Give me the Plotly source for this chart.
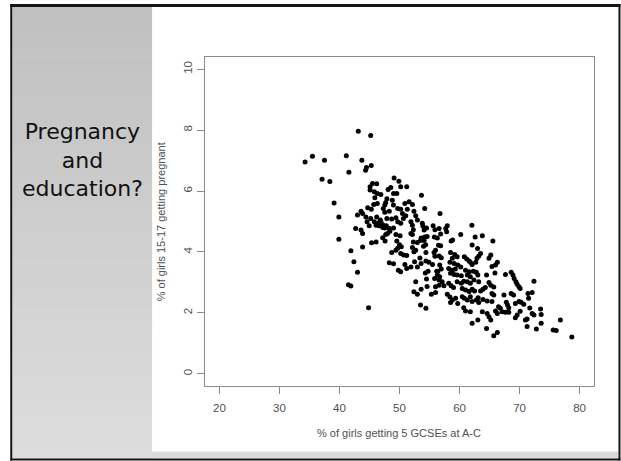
import plotly.graph_objects as go

# ---------------- data ----------------
# sparse upper-left points
gcse_a = [34.27, 35.5, 37.5, 37.1, 38.4, 39.1, 39.9, 41.14, 41.57, 43.13, 45.2, 43.73, 44.5, 44.35, 45.3]
preg_a = [6.95, 7.14, 7.01, 6.39, 6.31, 5.61, 5.15, 7.16, 6.62, 7.96, 7.82, 7.01, 6.77, 6.68, 6.84]

# upper cluster
gcse_b = [45.5, 46.2, 45.1, 45.1, 45.8, 46.3, 46.9, 48.1, 48.55, 49.1, 49.9, 50.2, 51.2, 49.55, 49.0,
          45.9, 47.9, 47.7, 47.55, 48.8, 48.99, 53.65, 54.2, 50.9, 51.6, 52.15, 49.7, 50.2, 51.3, 52.4,
          45.7, 46.3, 44.7, 45.3, 43.6, 43.85, 43.0, 44.4, 45.2, 46.2, 47.3, 47.55, 48.3, 47.9, 48.7,
          49.4, 50.5, 51.05, 50.65, 52.7, 52.98, 53.8, 51.9, 52.15, 49.7, 50.2, 46.9, 47.3, 46.6, 47.55,
          45.8, 46.1, 42.7, 43.6, 44.6, 44.95, 54.1, 54.5, 55.6, 48.3, 49.0, 47.0, 47.4, 47.8, 47.2,
          46.8, 46.5, 52.3, 53.9, 55.9, 56.75, 62.06, 57.96, 57.7, 57.85, 56.6, 48.4, 47.7, 54.6, 55.8,
          56.3]
preg_b = [6.25, 6.24, 6.14, 6.03, 5.98, 5.92, 5.89, 6.05, 6.12, 6.43, 6.32, 6.14, 6.14, 5.92, 5.92,
          5.78, 5.75, 5.62, 5.54, 5.70, 5.54, 5.86, 5.43, 5.59, 5.65, 5.56, 5.43, 5.40, 5.40, 5.34,
          5.56, 5.59, 5.45, 5.40, 5.34, 5.26, 5.21, 5.15, 5.10, 5.15, 5.43, 5.30, 5.34, 5.10, 5.08,
          5.12, 5.26, 5.19, 5.10, 5.19, 5.05, 4.94, 4.99, 4.88, 4.99, 4.94, 4.99, 4.88, 4.86, 4.79,
          4.99, 4.88, 4.77, 4.72, 4.99, 4.86, 4.72, 4.79, 4.86, 4.77, 4.79, 4.92, 4.84, 4.86, 4.80,
          5.05, 4.95, 4.73, 4.85, 4.73, 5.26, 4.88, 4.86, 4.77, 4.66, 4.77, 4.68, 4.57, 4.51, 4.49,
          4.46]

# middle-left points
gcse_d = [39.9, 41.9, 42.4, 43.0, 41.5, 41.9, 44.85, 43.85, 43.85, 45.35, 46.1, 47.2, 47.6, 48.0, 49.4,
          50.1, 49.55, 48.7, 49.4, 49.7, 50.3, 50.2, 50.7, 51.2, 48.3, 49.0, 49.8, 50.2, 50.9, 51.2,
          52.15, 52.4, 52.7, 52.3, 52.98, 51.9, 52.15, 53.6, 53.98, 54.2, 54.4, 52.5, 52.98, 53.6, 54.4,
          54.9, 55.5, 51.9, 54.76, 54.5, 52.7, 52.4, 52.98, 53.6, 55.3, 56.0, 56.0, 55.85, 56.2, 53.5,
          54.4, 55.75, 56.0, 54.0, 55.9, 54.6, 54.3, 53.4, 50.0, 53.5, 54.1, 54.35]
preg_d = [4.42, 4.04, 3.68, 3.33, 2.92, 2.88, 2.17, 4.61, 4.16, 4.30, 4.33, 4.47, 4.36, 4.61, 4.57,
          4.53, 4.36, 3.98, 4.06, 4.12, 4.17, 3.95, 3.90, 3.88, 3.65, 3.61, 3.40, 3.35, 3.59, 3.46,
          4.15, 4.01, 4.06, 4.33, 4.31, 4.61, 4.57, 4.46, 4.42, 4.49, 3.98, 3.68, 3.51, 3.62, 3.70,
          3.66, 3.59, 3.51, 3.37, 3.11, 3.02, 2.69, 2.61, 2.78, 2.61, 2.67, 2.86, 3.13, 3.37, 2.26,
          2.15, 3.98, 4.06, 4.19, 3.86, 2.87, 3.31, 3.80, 4.24, 4.38, 4.38, 4.24]

# lower-right points
gcse_e = [56.85, 60.2, 62.6, 63.8, 65.55, 56.5, 56.85, 58.6, 58.85, 62.1, 63.0, 58.5, 59.2, 59.6, 58.8,
          56.6, 56.96, 60.8, 61.2, 61.6, 61.8, 62.1, 63.2, 63.5, 62.9, 62.7, 65.2, 64.9, 66.3, 66.0,
          65.4, 56.7, 56.96, 56.4, 58.4, 59.1, 59.7, 60.2, 58.2, 58.8, 59.3, 58.5, 59.1, 59.6, 60.3,
          61.0, 61.6, 61.3, 61.8, 62.3, 62.8, 63.05, 64.5, 67.65, 68.6, 68.9, 69.1, 69.4, 69.6, 69.9,
          72.4, 57.1, 56.6, 57.4, 58.2, 58.6, 59.0, 59.6, 60.3, 60.7, 61.3, 61.8, 62.4, 63.2, 64.9,
          65.2, 60.45, 61.0, 61.6, 62.1, 62.5, 63.5, 63.9, 64.3, 65.4, 65.7, 67.4, 68.6, 69.0, 71.4,
          72.1, 57.96, 58.4, 58.8, 58.5, 59.35, 59.7, 60.45, 60.8, 61.3, 61.8, 62.1, 62.8, 63.2, 64.6,
          65.4, 66.5, 66.8, 67.8, 68.0, 68.2, 69.3, 69.9, 70.25, 70.7, 71.5, 60.7, 61.0, 61.8, 63.8,
          64.6, 64.9, 65.2, 66.0, 66.3, 67.1, 67.65, 68.2, 69.6, 69.3, 71.25, 70.97, 72.1, 72.4, 73.5,
          73.6, 62.1, 63.05, 64.5, 65.7, 66.3, 71.25, 72.8, 73.6, 75.6, 76.1, 76.8, 78.7, 56.3, 56.7,
          56.6, 70.1, 71.7, 70.1, 65.7, 65.9, 63.9, 63.1]
preg_e = [4.59, 4.57, 4.49, 4.53, 4.36, 4.22, 4.20, 4.36, 4.39, 4.23, 4.11, 3.98, 3.92, 3.84, 3.79,
          3.87, 3.81, 3.84, 3.77, 3.70, 3.66, 3.59, 3.87, 3.95, 3.79, 3.66, 3.90, 3.79, 3.66, 3.57,
          3.52, 3.57, 3.44, 3.37, 3.66, 3.62, 3.57, 3.51, 3.46, 3.40, 3.44, 3.30, 3.26, 3.24, 3.22,
          3.40, 3.35, 3.24, 3.19, 3.37, 3.33, 3.24, 3.24, 3.26, 3.33, 3.24, 3.13, 3.02, 2.94, 2.86,
          3.04, 3.02, 2.91, 2.89, 2.97, 2.89, 2.83, 3.02, 2.97, 3.04, 3.02, 2.97, 3.08, 3.02, 3.00,
          2.91, 2.80, 2.75, 2.70, 2.78, 2.72, 2.72, 2.78, 2.83, 2.64, 2.59, 2.59, 2.64, 2.59, 2.64,
          2.67, 2.61, 2.52, 2.42, 2.34, 2.48, 2.31, 2.53, 2.48, 2.42, 2.53, 2.37, 2.42, 2.34, 2.39,
          2.37, 2.20, 2.15, 2.35, 2.26, 2.17, 2.31, 2.37, 2.35, 2.28, 2.48, 2.17, 2.06, 2.04, 2.04,
          1.98, 1.87, 1.77, 2.06, 1.98, 2.04, 2.02, 2.02, 1.93, 1.84, 1.80, 1.77, 1.98, 1.93, 2.13,
          1.95, 1.66, 1.77, 1.49, 1.25, 1.36, 1.55, 1.47, 1.66, 1.44, 1.42, 1.77, 1.21, 3.24, 3.19,
          3.08, 2.80, 2.16, 2.05, 2.85, 3.31, 2.44, 2.50]

x_ticks = [20, 30, 40, 50, 60, 70, 80]
y_ticks = [0, 2, 4, 6, 8, 10]
x_title = "% of girls getting 5 GCSEs at A-C"
y_title = "% of girls 15-17 getting pregnant"
slide_title = "Pregnancy<br>and<br>education?"

gcse = gcse_a + gcse_b + gcse_d + gcse_e
preg = preg_a + preg_b + preg_d + preg_e

# ---------------- layout geometry ----------------
W, H = 621, 461
L, R, T, B = 205, 594.5, 57, 386.5


def u(px):
    return (px - L) / (R - L)


def v(py):
    return (B - py) / (B - T)


def rect(x0, y0, x1, y1, color):
    return dict(type="rect", xref="paper", yref="paper",
                x0=u(x0), x1=u(x1), y0=v(y1), y1=v(y0),
                fillcolor=color, line=dict(width=0), layer="below")


shapes = []
# left gradient panel
n = 46
top, bot = 7, 459
for i in range(n):
    y0 = top + (bot - top) * i / n
    y1 = top + (bot - top) * (i + 1) / n + 0.6
    t = i / (n - 1)
    c = int(round(192 + (221 - 192) * t))
    shapes.append(rect(12, y0, 152, y1, f"rgb({c},{c},{c})"))
# bottom light strip
shapes.append(rect(152, 452, 619, 459, "#dadada"))
# black frame
shapes.append(rect(10, 4, 621, 7, "#141414"))
shapes.append(rect(10, 4, 12, 461, "#141414"))
shapes.append(rect(619, 4, 621, 461, "#141414"))
shapes.append(rect(10, 459, 621, 461, "#141414"))

fig = go.Figure()
fig.add_trace(go.Scatter(
    x=gcse, y=preg, mode="markers",
    marker=dict(color="black", size=5, symbol="circle", line=dict(width=0)),
    hoverinfo="skip", showlegend=False,
))

axis_font = dict(family="Liberation Sans, Arial, sans-serif", size=11.5, color="#505050")

fig.update_xaxes(
    range=[17.6, 82.4], tickvals=x_ticks, ticktext=[str(t) for t in x_ticks],
    showgrid=False, zeroline=False, showline=True, mirror=True,
    linecolor="#8a8a8a", linewidth=1.3, ticks="outside", ticklen=7, tickwidth=1,
    tickcolor="#8a8a8a", tickfont=axis_font, ticklabelstandoff=4,
)
fig.update_yaxes(
    range=[-0.4, 10.4], tickvals=y_ticks, ticktext=[str(t) for t in y_ticks],
    showgrid=False, zeroline=False, showline=True, mirror=True,
    linecolor="#8a8a8a", linewidth=1.3, ticks="outside", ticklen=7, tickwidth=1,
    tickcolor="#8a8a8a", tickfont=axis_font, tickangle=-90, ticklabelstandoff=0,
)

annotations = [
    dict(text=x_title, xref="paper", yref="paper", x=u(399.5), y=v(434),
         xanchor="center", yanchor="middle", showarrow=False,
         font=dict(family="Liberation Sans, Arial, sans-serif", size=11, color="#505050")),
    dict(text=y_title, xref="paper", yref="paper", x=u(160.5), y=v(222),
         xanchor="center", yanchor="middle", showarrow=False, textangle=-90,
         font=dict(family="Liberation Sans, Arial, sans-serif", size=11, color="#505050")),
    dict(text=slide_title, xref="paper", yref="paper", x=u(82), y=v(160),
         xanchor="center", yanchor="middle", showarrow=False, align="center",
         font=dict(family="DejaVu Sans, Verdana, sans-serif", size=22, color="#111111")),
]

fig.update_layout(
    width=W, height=H, autosize=False,
    margin=dict(l=L, r=W - R, t=T, b=H - B, pad=0),
    paper_bgcolor="white", plot_bgcolor="white",
    shapes=shapes, annotations=annotations,
)

fig.write_html("out.html", include_plotlyjs=True, full_html=True,
               config=dict(displayModeBar=False))
